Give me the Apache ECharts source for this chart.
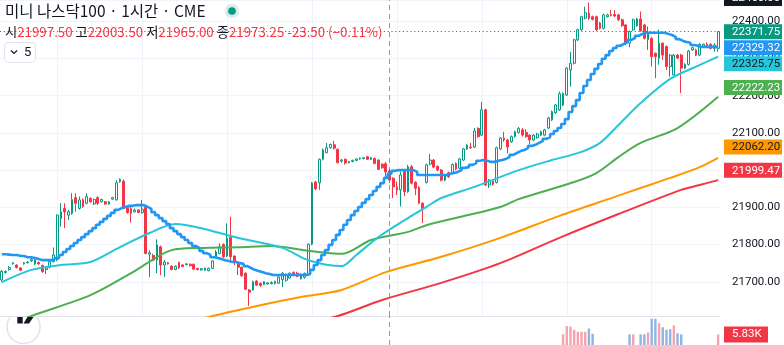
<!DOCTYPE html>
<html><head><meta charset="utf-8">
<script src="https://cdn.jsdelivr.net/npm/echarts@6/dist/echarts.min.js"></script>
<style>html,body{margin:0;padding:0;background:#fff;overflow:hidden}#c{width:784px;height:345px}</style>
</head><body><div id="c"></div>
<script>
// ---- DATA ----
// hourly candles: [open, high, low, close]
const candles = [
[21705,21732,21700,21728],[21725,21730,21722,21728],[21733,21742,21730,21738],[21748,21753,21746,21751],[21745,21747,21736,21738],
[21737,21739,21729,21731],[21748,21753,21746,21751],[21751,21755,21749,21753],[21756,21764,21753,21760],[21748,21764,21745,21760],
[21752,21754,21746,21748],[21744,21746,21724,21727],[21733,21739,21721,21737],[21739,21756,21736,21754],[21754,21792,21752,21772],
[21760,21881,21755,21879],[21870,21911,21848,21888],[21897,21911,21844,21888],[21879,21893,21866,21888],[21884,21938,21880,21921],
[21926,21938,21888,21911],[21897,21929,21894,21920],[21920,21924,21899,21902],[21911,21938,21908,21929],[21924,21927,21912,21915],
[21909,21924,21906,21921],[21926,21930,21906,21911],[21915,21923,21913,21921],[21915,21917,21907,21909],[21909,21917,21907,21915],
[21922,21928,21920,21926],[21920,21973,21918,21966],[21969,21978,21966,21975],[21970,21975,21895,21897],[21900,21903,21883,21886],
[21897,21906,21859,21884],[21888,21897,21886,21893],[21893,21895,21884,21886],[21886,21920,21883,21895],[21900,21906,21774,21776],
[21774,21785,21712,21778],[21771,21775,21755,21758],[21758,21814,21723,21799],[21794,21797,21718,21745],[21745,21758,21713,21753],
[21751,21753,21746,21748],[21742,21744,21731,21733],[21733,21744,21731,21742],[21752,21754,21735,21737],[21745,21747,21739,21741],
[21746,21750,21744,21748],[21747,21749,21741,21743],[21747,21749,21732,21734],[21736,21737,21730,21733],[21732,21737,21730,21735],
[21731,21738,21729,21736],[21730,21738,21728,21736],[21736,21758,21734,21756],[21767,21785,21765,21780],[21776,21803,21774,21794],
[21800,21803,21764,21767],[21769,21857,21766,21817],[21819,21875,21758,21767],[21769,21771,21745,21754],[21750,21752,21718,21739],
[21739,21741,21714,21716],[21723,21725,21678,21680],[21678,21680,21635,21672],[21678,21703,21676,21700],[21702,21704,21689,21691],
[21696,21698,21686,21690],[21693,21702,21691,21700],[21694,21699,21692,21697],[21695,21701,21693,21698],[21695,21703,21693,21701],
[21696,21716,21694,21713],[21706,21726,21686,21723],[21704,21722,21700,21718],[21710,21725,21708,21723],[21725,21728,21715,21717],
[21723,21727,21712,21715],[21708,21723,21706,21719],[21712,21725,21708,21722],[21720,21803,21716,21801],[21801,21968,21798,21965],
[21968,21971,21946,21950],[21966,22031,21947,22029],[22029,22058,22026,22054],[22047,22073,22045,22060],[22060,22071,22058,22069],
[22068,22079,22055,22059],[22056,22058,22018,22020],[22024,22030,22020,22027],[22029,22031,22015,22019],[22020,22025,22018,22023],
[22023,22028,22021,22026],[22026,22032,22024,22030],[22030,22034,22028,22032],[22031,22035,22029,22033],[22036,22038,22027,22029],
[22029,22035,22027,22033],[22031,22034,22016,22018],[22027,22029,22000,22002],[22016,22018,22004,22006],[22017,22022,21982,21995],
[21997.5,22003.5,21965,21973.25],[21978,21981,21925,21955],[21955,21969,21933,21946],[21947,21996,21902,21987],[21996,21999,21930,21942],
[21942,22014,21939,22009],[22009,22014,21962,21965],[21967,21970,21933,21951],[21953,21957,21908,21911],[21911,21913,21858,21897],
[21967,22017,21964,22014],[22016,22044,22013,22027],[22027,22030,22005,22008],[22010,22013,21997,22000],[22000,22003,21970,21973],
[21973,21990,21970,21987],[21993,21996,21979,21982],[21993,22018,21990,22015],[22018,22021,22000,22003],[22005,22033,22002,22030],
[22027,22060,22024,22057],[22057,22070,22054,22067],[22062,22073,22057,22060],[22062,22113,22059,22105],[22112,22115,22087,22090],
[22094,22183,22091,22162],[22162,22165,21957,21960],[21960,21976,21952,21973],[21970,21973,21958,21962],[21967,22063,21964,22060],
[22057,22089,22054,22086],[22086,22103,22076,22081],[22081,22084,22045,22062],[22076,22093,22073,22090],[22090,22106,22087,22103],
[22101,22116,22098,22112],[22108,22113,22090,22094],[22101,22110,22087,22090],[22094,22096,22070,22081],[22081,22097,22078,22094],
[22087,22100,22084,22097],[22094,22106,22091,22103],[22094,22111,22091,22108],[22113,22143,22110,22140],[22135,22160,22132,22157],
[22154,22178,22151,22175],[22162,22211,22159,22205],[22175,22209,22172,22206],[22202,22277,22199,22274],[22269,22318,22224,22287],
[22287,22353,22284,22350],[22350,22380,22347,22377],[22377,22415,22374,22412],[22408,22439,22405,22423],[22422,22450,22403,22408],
[22412,22415,22402,22405],[22412,22415,22374,22377],[22395,22398,22378,22381],[22381,22420,22378,22417],[22412,22420,22410,22417],
[22418,22430,22413,22415],[22418,22430,22411,22414],[22417,22420,22401,22404],[22404,22407,22385,22388],[22390,22393,22336,22341],
[22341,22375,22330,22372],[22377,22407,22374,22404],[22388,22409,22385,22406],[22406,22426,22372,22374],[22390,22393,22351,22354],
[22350,22386,22323,22369],[22354,22357,22278,22305],[22314,22316,22247,22305],[22301,22377,22283,22341],[22341,22343,22296,22309],
[22332,22335,22269,22278],[22278,22312,22251,22309],[22256,22312,22254,22309],[22309,22312,22298,22301],[22309,22312,22207,22274],
[22274,22287,22271,22284],[22284,22323,22281,22320],[22323,22332,22320,22329],[22323,22326,22306,22309],[22309,22341,22306,22338],
[22332,22340,22330,22338],[22338,22343,22329,22332],[22338,22341,22324,22327],[22327,22341,22318,22336],[22327,22374,22318,22371.75]
];
const categories = candles.map((_, i) => String(i));

// blue step line, one value per bar
const blueStep = [
21774,21774,21773,21772,21772,21770,21769,21766,21766,21764,
21761,21758,21758,21758,21758,21764,21772,21780,21788,21796,
21804,21812,21820,21828,21836,21844,21853,21861,21869,21877,
21885,21893,21898,21901,21904,21904,21906,21906,21906,21901,
21896,21887,21879,21871,21863,21855,21844,21836,21828,21820,
21812,21804,21796,21791,21783,21777,21772,21766,21764,21761,
21758,21756,21753,21753,21750,21748,21742,21737,21732,21729,
21726,21723,21721,21718,21718,21718,21718,21718,21718,21718,
21718,21718,21718,21721,21732,21745,21758,21772,21785,21799,
21812,21826,21839,21853,21866,21879,21890,21901,21912,21922,
21933,21944,21955,21965,21979,21990,21998,22000,22000,22000,
22000,22000,21995,21987,21987,21987,21987,21987,21987,21987,
21987,21990,21992,21995,22000,22006,22008,22014,22019,22025,
22027,22025,22022,22022,22025,22027,22030,22035,22041,22046,
22051,22054,22059,22065,22068,22073,22078,22084,22089,22097,
22105,22113,22124,22137,22156,22172,22188,22207,22226,22242,
22258,22272,22285,22299,22309,22320,22328,22334,22339,22344,
22350,22355,22361,22366,22369,22369,22369,22369,22369,22369,
22366,22363,22358,22352,22347,22344,22342,22336,22334,22331,
22331,22331,22331,22331,22331
];
// moving averages read at bar index: [bar, value]
const cyanMA = [[0,21699],[8,21732],[16,21745],[24,21753],[32,21793],[40,21831],[47,21855],[54,21844],[63,21820],[76,21791],[83,21758],[92,21742],[96,21772],[102,21820],[110,21871],[115,21901],[119,21925],[128,21955],[140,22000],[149,22027],[157,22049],[162,22073],[167,22121],[173,22180],[181,22245],[188,22278],[194,22305]];
const greenMA = [[0,21576],[8,21608],[24,21664],[35,21723],[46,21785],[54,21791],[64,21793],[73,21796],[83,21783],[92,21775],[100,21812],[110,21834],[115,21852],[124,21874],[135,21901],[140,21922],[155,21968],[161,21992],[167,22035],[173,22073],[183,22113],[194,22197]];
const orangeMA = [[0,21450],[40,21562],[57,21608],[70,21637],[81,21659],[92,21678],[104,21726],[119,21767],[135,21818],[151,21877],[166,21928],[173,21952],[181,21979],[189,22008],[194,22033]];
const redMA = [[80,21585],[91,21608],[103,21651],[119,21697],[135,21750],[151,21818],[167,21882],[184,21947],[189,21960],[194,21973]];

// volume (only the bars tall enough to show in the visible strip)
const volumeDown = [[152,5900],[153,10500],[154,10200],[155,8400],[156,7300],[157,7300],[158,7300],[171,5900],[175,6900],[178,12000],[182,10900],[194,5830]];
const volumeUp = [[159,9100],[160,6200],[170,5900],[173,5900],[174,5900],[176,14500],[177,14500],[179,9800],[180,8400],[181,8700],[183,6500],[184,5900]];

// price scale labels
const priceLabelValues = [22371.75, 22329.32, 22325.75, 22222.23, 22062.20, 21999.47];
const priceLabelBg = ['#089981', '#2196f3', '#26c6da', '#4caf50', '#ff9800', '#f23645'];
const priceLabelFg = ['#ffffff', '#ffffff', '#131722', '#ffffff', '#131722', '#ffffff'];
const crosshairPrice = 22460.00;
const lastVolumeLabel = '5.83K';
const lastVolume = 5830;

// header
const titleText = '미니 나스닥100 · 1시간 · CME';
const ohlcKeys = ['시', '고', '저', '종'];
const ohlcValues = ['21997.50', '22003.50', '21965.00', '21973.25'];
const changeText = '-23.50 (−0.11%)';
const intervalBadge = '5';

// session grid and crosshair positions (bar indices)
const dayStartBars = [15, 38, 61, 84, 107, 130, 153, 176];
const crosshairBar = 105;
const lastPrice = 22371.75;

// ---- CHART ----
const chart = echarts.init(document.getElementById('c'));
const numFont = 'Roboto, "Noto Sans", sans-serif';
const cjkFont = '"Noto Sans CJK KR", "Noto Sans", sans-serif';

const option = {
  animation: false,
  backgroundColor: '#ffffff',
  grid: [
    {left: 0, right: 64, top: 0, bottom: 29},
    {left: 0, right: 64, top: 316, bottom: -15}
  ],
  xAxis: [
    {type: 'category', data: categories, gridIndex: 0, show: false, boundaryGap: true},
    {type: 'category', data: categories, gridIndex: 1, boundaryGap: true, position: 'top',
     axisLine: {show: true, onZero: false, lineStyle: {color: '#e0e3eb', width: 1}},
     axisTick: {show: false}, axisLabel: {show: false}, splitLine: {show: false}}
  ],
  yAxis: [
    {type: 'value', gridIndex: 0, position: 'right', min: 21608, max: 22457, splitNumber: 8,
     axisLine: {show: false}, axisTick: {show: false},
     axisLabel: {color: '#131722', fontSize: 11.5, fontFamily: numFont, margin: 12,
       formatter: v => (Math.abs(v % 100) < 1e-6 ? v.toFixed(2) : '')},
     splitLine: {show: true, lineStyle: {color: '#f0f3fa', width: 1}}},
    {type: 'value', gridIndex: 1, min: 0, max: 16000, show: false, splitLine: {show: false}}
  ],
  series: [
    {
      name: 'grid', type: 'line', xAxisIndex: 0, yAxisIndex: 0, z: 1, silent: true,
      data: candles.map(c => c[3]), showSymbol: false, lineStyle: {opacity: 0},
      markLine: {
        z: 1, silent: true, symbol: 'none', label: {show: false}, animation: false,
        data: [
          ...dayStartBars.map(b => ({xAxis: b, lineStyle: {color: '#f0f3fa', width: 1, type: 'solid'}})),
          {xAxis: crosshairBar, lineStyle: {color: '#9598a1', width: 1, type: [5, 4]}},
          {yAxis: lastPrice, lineStyle: {color: '#089981', width: 1, type: [1.2, 2.6]}}
        ]
      }
    },
    {
      name: 'price', type: 'candlestick', xAxisIndex: 0, yAxisIndex: 0, z: 2,
      barWidth: 2.2,
      data: candles.map(([o, h, l, c]) => [o, c, l, h]),
      itemStyle: {color: 'rgba(255,255,255,0)', color0: '#f23645', borderColor: '#089981', borderColor0: '#f23645', borderWidth: 1}
    },
    {name: 'red', type: 'line', data: redMA, smooth: 0.3, showSymbol: false, z: 3, lineStyle: {color: '#f23645', width: 2}},
    {name: 'orange', type: 'line', data: orangeMA, smooth: 0.3, showSymbol: false, z: 3, lineStyle: {color: '#ff9800', width: 2}},
    {name: 'green', type: 'line', data: greenMA, smooth: 0.3, showSymbol: false, z: 3, lineStyle: {color: '#4caf50', width: 2}},
    {name: 'cyan', type: 'line', data: cyanMA, smooth: 0.3, showSymbol: false, z: 3, lineStyle: {color: '#26c6da', width: 2}},
    {name: 'blue', type: 'line', data: blueStep, step: 'middle', showSymbol: false, z: 4, lineStyle: {color: '#2196f3', width: 2.6}},
    {
      name: 'volDown', type: 'bar', xAxisIndex: 1, yAxisIndex: 1, data: volumeDown, barWidth: 2.4, barGap: '-100%',
      itemStyle: {color: '#f5a3ad'}
    },
    {
      name: 'volUp', type: 'bar', xAxisIndex: 1, yAxisIndex: 1, data: volumeUp, barWidth: 2.4, barGap: '-100%',
      itemStyle: {color: '#8fb3e3'},
      markLine: {z: 1, silent: true, symbol: 'none', label: {show: false}, animation: false,
        data: [{xAxis: crosshairBar, lineStyle: {color: '#9598a1', width: 1, type: [5, 4]}}]}
    }
  ]
};
chart.setOption(option);

// ---- overlay texts (positions from the library's scales) ----
const gfx = [];
const boxX = 724, boxW = 58, boxH = 15, textX = 732;
const labelFont = '11.5px ' + numFont;

// crosshair price label (dark)
const cy = chart.convertToPixel({yAxisIndex: 0}, crosshairPrice);
gfx.push({type: 'rect', z: 100, shape: {x: boxX, y: cy - 8, width: boxW, height: 15}, style: {fill: '#131722'}});
gfx.push({type: 'text', z: 101, x: textX, y: cy - 0.5, style: {text: crosshairPrice.toFixed(2), fill: '#ffffff', font: labelFont, verticalAlign: 'middle'}});

let items = priceLabelValues.map((v, i) => ({v, y: chart.convertToPixel({yAxisIndex: 0}, v), bg: priceLabelBg[i], fg: priceLabelFg[i]}));
items.sort((a, b) => a.y - b.y);
let prevBottom = -Infinity;
items.forEach(it => {
  let top = it.y - boxH / 2;
  if (top < prevBottom + 1) top = prevBottom + 1;
  prevBottom = top + boxH;
  gfx.push({type: 'rect', z: 100, shape: {x: boxX, y: top, width: boxW, height: boxH}, style: {fill: it.bg}});
  gfx.push({type: 'text', z: 101, x: textX, y: top + boxH / 2 + 0.5, style: {text: it.v.toFixed(2), fill: it.fg, font: labelFont, verticalAlign: 'middle'}});
});

// volume label
let vy = chart.convertToPixel({yAxisIndex: 1}, lastVolume);
vy = Math.min(vy, 339);
gfx.push({type: 'rect', z: 100, shape: {x: boxX, y: vy - 8, width: 44, height: 16}, style: {fill: '#f23645'}});
gfx.push({type: 'text', z: 101, x: textX, y: vy, style: {text: lastVolumeLabel, fill: '#ffffff', font: labelFont, verticalAlign: 'middle'}});

// header
gfx.push({type: 'text', z: 100, x: 5, y: 11, style: {text: titleText, fill: '#131722', font: '15.5px ' + cjkFont, verticalAlign: 'middle'}});
gfx.push({type: 'circle', z: 100, shape: {cx: 232, cy: 11, r: 7}, style: {fill: 'rgba(8,153,129,0.16)'}});
gfx.push({type: 'circle', z: 101, shape: {cx: 232, cy: 11, r: 3.8}, style: {fill: '#089981'}});
let line2 = ohlcKeys.map((k, i) => '{k|' + k + '}{v|' + ohlcValues[i] + '}').join(' ') + ' {v|' + changeText + '}';
gfx.push({type: 'text', z: 100, x: 5, y: 32, style: {
  text: line2, font: '13.3px ' + cjkFont, verticalAlign: 'middle',
  rich: {k: {fill: '#131722', font: '13.3px ' + cjkFont}, v: {fill: '#f23645', font: '13.3px ' + cjkFont}}
}});
gfx.push({type: 'rect', z: 100, shape: {x: 4.5, y: 42.5, width: 31, height: 20, r: 4}, style: {fill: '#ffffff', stroke: '#e0e3eb', lineWidth: 1}});
gfx.push({type: 'polyline', z: 101, shape: {points: [[11, 50.5], [14, 53.5], [17, 50.5]]}, style: {stroke: '#131722', lineWidth: 1.2, fill: null}});
gfx.push({type: 'text', z: 101, x: 24, y: 53, style: {text: intervalBadge, fill: '#131722', font: '13px ' + numFont, verticalAlign: 'middle'}});

// TradingView logo (partly hidden at the pane edge)
gfx.push({type: 'arc', z: 100, shape: {cx: 23.5, cy: 327, r: 16.5, startAngle: -0.73, endAngle: Math.PI + 0.73, clockwise: true}, style: {stroke: '#e0e3eb', lineWidth: 1.5, fill: null}});
gfx.push({type: 'rect', z: 101, shape: {x: 17.3, y: 317, width: 5.4, height: 6.5}, style: {fill: '#131722'}});
gfx.push({type: 'polygon', z: 101, shape: {points: [[27.5, 317], [33.5, 317], [29, 323.5], [23.5, 323.5]]}, style: {fill: '#131722'}});

chart.setOption({graphic: {elements: gfx}});
</script>
</body></html>
